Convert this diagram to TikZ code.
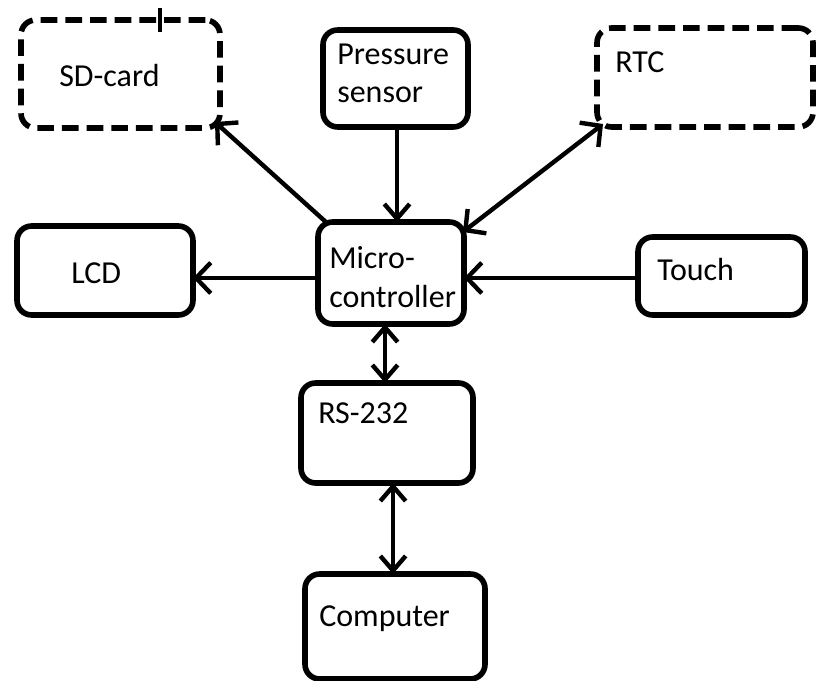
\documentclass[tikz,border=0pt]{standalone}
\usepackage{fontspec}
\setmainfont{Carlito}
\usetikzlibrary{arrows.meta,calc}
\begin{document}
\begin{tikzpicture}[x=0.75pt,y=-0.75pt,
  box/.style={draw, line width=4.2pt, rounded corners=11pt, inner sep=0pt, outer sep=0pt},
  dbox/.style={box, dash pattern=on 12.5pt off 6pt},
  lbl/.style={anchor=base west, inner sep=0pt, font=\fontsize{24}{29}\selectfont},
  tipb/.tip={Straight Barb[length=11pt,width=23pt]},
  tipn/.tip={Straight Barb[length=11pt,width=19pt]},
  conn/.style={line width=3.3pt},
  tickline/.style={line width=3.3pt}]
\useasboundingbox (0,0) rectangle (817,681);
\clip (0,0) rectangle (817,681);
% boxes
\node[dbox, minimum width=199*0.75pt, minimum height=108*0.75pt] (sd) at (120.5,74) {};
\node[box, minimum width=145*0.75pt, minimum height=97*0.75pt] (ps) at (395.5,78.5) {};
\node[dbox, minimum width=216*0.75pt, minimum height=99*0.75pt] (rtc) at (705,77.5) {};
\node[box, minimum width=176*0.75pt, minimum height=89*0.75pt] (lcd) at (105,270.5) {};
\node[box, minimum width=146*0.75pt, minimum height=102*0.75pt] (mc) at (391,273) {};
\node[box, minimum width=167*0.75pt, minimum height=78*0.75pt] (touch) at (721.5,276) {};
\node[box, minimum width=172*0.75pt, minimum height=100*0.75pt] (rs) at (387,433) {};
\node[box, minimum width=180*0.75pt, minimum height=105*0.75pt] (comp) at (395,626.5) {};
% labels
\node[lbl] (sdt) at (59,87) {SD-card};
\node[lbl] (pst1) at (337,65) {Pressure};
\node[lbl] (pst2) at (337,103) {sensor};
\node[lbl] (rtct) at (615,73) {RTC};
\node[lbl] (lcdt) at (71,283) {LCD};
\node[lbl] (mct1) at (329,268) {Micro-};
\node[lbl] (mct2) at (329,307) {controller};
\node[lbl] (toucht) at (657,280) {Touch};
\node[lbl] (rst) at (318,423) {RS-232};
\node[lbl] (compt) at (319,626) {Computer};
% stray tick on SD-card box
\draw[tickline] ($(sd.north)+(39.5,-12)$) -- ++(0,24);
% connectors
\draw[conn, -tipb] ($(mc.north west)+(9,1)$) -- ($(sd.south east)+(-5,-6)$);
\draw[conn, -tipn] ($(ps.south)+(1.5,0)$) -- ($(mc.north)+(6,0)$);
\draw[conn, tipb-tipb] ($(mc.north east)+(-1,10)$) -- ($(rtc.south west)+(6,-3)$);
\draw[conn, -tipb] ($(mc.west)+(0,5)$) -- ($(lcd.east)+(0,7.5)$);
\draw[conn, -tipb] ($(touch.west)+(0,2)$) -- ($(mc.east)+(0,5)$);
\draw[conn, tipn-tipn] ($(mc.south)+(-6,0)$) -- ($(rs.north)+(-2,0)$);
\draw[conn, tipn-tipn] ($(rs.south)+(6,0)$) -- ($(comp.north)+(-2,0)$);
\end{tikzpicture}
\end{document}
